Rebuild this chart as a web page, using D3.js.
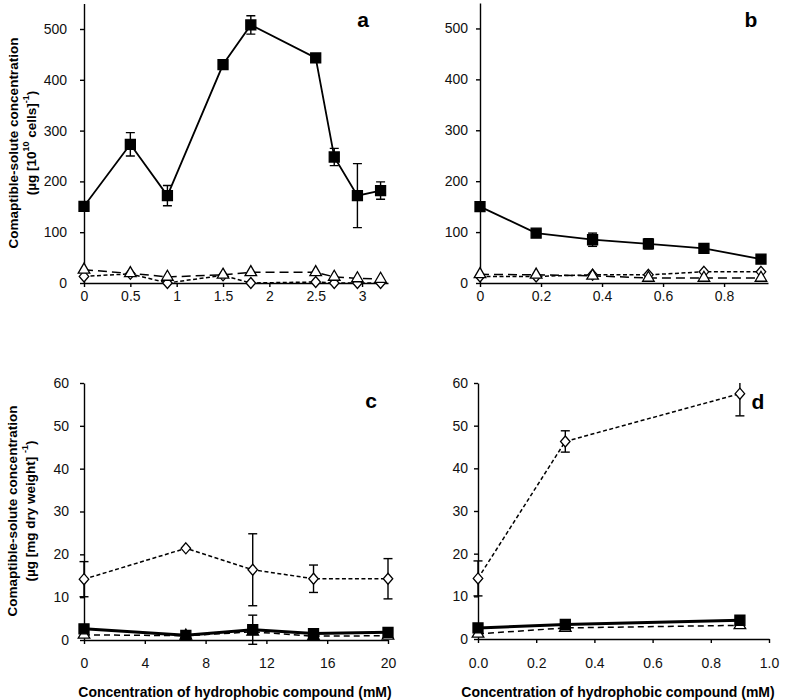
<!DOCTYPE html>
<html>
<head>
<meta charset="utf-8">
<script src="https://cdn.jsdelivr.net/npm/d3@7"></script>
<style>
  body { margin: 0; background: #fff; }
  svg { font-family: "Liberation Sans", Arial, sans-serif; }
</style>
</head>
<body>
<svg id="chart" width="800" height="700"></svg>
<script>
// ---------- data ----------
const aX = [0, 0.5, 0.9, 1.5, 1.8, 2.5, 2.7, 2.95, 3.2];
const aSquare = [151, 273, 172, 430, 508, 443, 248, 172, 182];
const aSquareErr = [0, 23, 20, 6, 18, 0, 17, 63, 17];
const aTriangle = [26, 19, 12, 16, 21, 21, 12, 9, 8];
const aDiamond = [13, 18, 0, 15, 0, 2, 0, 0, 0];

const bX = [0, 0.184, 0.369, 0.552, 0.734, 0.921];
const bSquare = [150, 98, 85, 77, 68, 47];
const bSquareErr = [0, 0, 13, 10, 0, 0];
const bTriangle = [17, 16, 14, 10, 10, 10];
const bDiamond = [13, 13, 16, 16, 22, 22];

const cX = [0, 6.7, 11.1, 15.1, 20];
const cSquare = [2.6, 1.1, 2.4, 1.5, 1.8];
const cSquareErr = [0, 0, 3.4, 0, 0];
const cTriangle = [1.2, 1.0, 1.9, 0.9, 1.0];
const cDiamond = [14.2, 21.4, 16.4, 14.3, 14.3];
const cDiamondErr = [4.1, 0, 8.4, 3.2, 4.7];

const dX = [0, 0.3, 0.9];
const dSquare = [2.6, 3.4, 4.4];
const dTriangle = [1.2, 2.6, 3.2];
const dDiamond = [14.2, 46.3, 57.5];
const dDiamondErr = [4.1, 2.5, 5.2];

const topYTicks = [0, 100, 200, 300, 400, 500];
const bottomYTicks = [0, 10, 20, 30, 40, 50, 60];
const aXTicks = [0, 0.5, 1, 1.5, 2, 2.5, 3];
const bXTicks = [0, 0.2, 0.4, 0.6, 0.8];
const cXTicks = [0, 4, 8, 12, 16, 20];
const dXTicks = [0, 0.2, 0.4, 0.6, 0.8, 1.0];

const yTitleMain = "Comaptible-solute concentration";
const xTitle = "Concentration of hydrophobic compound (mM)";

// ---------- drawing ----------
const svg = d3.select("#chart");

const wideDiamond = {
  draw(ctx, size) {
    const h = Math.sqrt(size) / 2;
    const w = h * 0.95;
    ctx.moveTo(0, -h * 1.1);
    ctx.lineTo(w, 0);
    ctx.lineTo(0, h * 1.1);
    ctx.lineTo(-w, 0);
    ctx.closePath();
  }
};

function drawPanel(p) {
  const g = svg.append("g");
  const x = d3.scaleLinear().domain(p.xDomain).range(p.xRange);
  const y = d3.scaleLinear().domain(p.yDomain).range(p.yRange);

  const xAxis = d3.axisBottom(x).tickValues(p.xTicks).tickFormat(p.xFmt)
    .tickSizeInner(4).tickSizeOuter(0).tickPadding(p.xPad);
  const yAxis = d3.axisLeft(y).tickValues(p.yTicks).tickFormat(d3.format("d"))
    .tickSizeInner(4).tickSizeOuter(0).tickPadding(p.yPad);
  const gx = g.append("g").attr("transform", `translate(0,${p.yRange[0]})`).call(xAxis);
  const gy = g.append("g").attr("transform", `translate(${p.xRange[0]},0)`).call(yAxis);
  [gx, gy].forEach(a => {
    a.selectAll("path,line").attr("stroke", "#000").attr("stroke-width", 1.4);
    a.selectAll("text").attr("font-size", 14).attr("fill", "#111");
  });

  const clip = "clip" + p.id;
  g.append("clipPath").attr("id", clip).append("rect")
    .attr("x", p.xRange[0] - 20).attr("y", p.yRange[1])
    .attr("width", p.xRange[1] - p.xRange[0] + 40).attr("height", p.yRange[0] - p.yRange[1] + 20);
  const plot = g.append("g").attr("clip-path", `url(#${clip})`);

  function series(xs, ys, errs, shape, dash, lw) {
    const pts = xs.map((v, i) => ({ x: v, y: ys[i], e: errs ? errs[i] : 0 }));
    const line = d3.line().x(d => x(d.x)).y(d => y(d.y));
    plot.append("path").datum(pts).attr("d", line)
      .attr("fill", "none").attr("stroke", "#000").attr("stroke-width", lw)
      .attr("stroke-dasharray", dash);
    const eb = plot.append("g").attr("stroke", "#000").attr("stroke-width", 1.4);
    pts.filter(d => d.e > 0).forEach(d => {
      const cx = x(d.x), y1 = y(d.y - d.e), y2 = y(d.y + d.e);
      eb.append("line").attr("x1", cx).attr("x2", cx).attr("y1", y1).attr("y2", y2);
      eb.append("line").attr("x1", cx - 4.5).attr("x2", cx + 4.5).attr("y1", y1).attr("y2", y1);
      eb.append("line").attr("x1", cx - 4.5).attr("x2", cx + 4.5).attr("y1", y2).attr("y2", y2);
    });
    const sym = shape === "square" ? d3.symbolSquare : shape === "triangle" ? d3.symbolTriangle : wideDiamond;
    const size = shape === "square" ? 100 : shape === "triangle" ? 58 : 100;
    plot.append("g").selectAll("path").data(pts).join("path")
      .attr("d", d3.symbol().type(sym).size(size))
      .attr("transform", d => `translate(${x(d.x)},${y(d.y)})`)
      .attr("fill", shape === "square" ? "#000" : "#fff")
      .attr("stroke", "#000").attr("stroke-width", 1.3);
  }

  series(p.xs, p.diamond, p.diamondErr, "diamond", "4,2.5", 1.5);
  series(p.xs, p.triangle, null, "triangle", p.triDash, 1.5);
  series(p.xs, p.square, p.squareErr, "square", null, p.sqLw);

  g.append("text").attr("x", p.letterPos[0]).attr("y", p.letterPos[1])
    .attr("text-anchor", "middle").attr("font-size", 21).attr("font-weight", "bold")
    .text(p.letter);
}

drawPanel({
  id: "a", letter: "a", letterPos: [363, 27],
  xs: aX, square: aSquare, squareErr: aSquareErr, triangle: aTriangle, diamond: aDiamond,
  xDomain: [0, 3.28], xRange: [84, 388], yDomain: [0, 550], yRange: [283, 3.6],
  xTicks: aXTicks, xFmt: d3.format("~g"), yTicks: topYTicks, xPad: 4, yPad: 13,
  triDash: "9,5", sqLw: 1.8
});
drawPanel({
  id: "b", letter: "b", letterPos: [751, 27],
  xs: bX, square: bSquare, squareErr: bSquareErr, triangle: bTriangle, diamond: bDiamond,
  xDomain: [0, 0.944], xRange: [480, 768], yDomain: [0, 550], yRange: [283, 3],
  xTicks: bXTicks, xFmt: d3.format("~g"), yTicks: topYTicks, xPad: 4, yPad: 8,
  triDash: "9,5", sqLw: 1.8
});
drawPanel({
  id: "c", letter: "c", letterPos: [371, 408],
  xs: cX, square: cSquare, squareErr: cSquareErr, triangle: cTriangle, diamond: cDiamond, diamondErr: cDiamondErr,
  xDomain: [0, 20], xRange: [84, 388], yDomain: [0, 60], yRange: [640, 383],
  xTicks: cXTicks, xFmt: d3.format("d"), yTicks: bottomYTicks, xPad: 14, yPad: 11,
  triDash: "6,4", sqLw: 3
});
drawPanel({
  id: "d", letter: "d", letterPos: [758, 409],
  xs: dX, square: dSquare, squareErr: null, triangle: dTriangle, diamond: dDiamond, diamondErr: dDiamondErr,
  xDomain: [0, 1], xRange: [478, 769], yDomain: [0, 60], yRange: [639, 383],
  xTicks: dXTicks, xFmt: d3.format(".1f"), yTicks: bottomYTicks, xPad: 15, yPad: 6,
  triDash: "6,4", sqLw: 3
});

function yTitle(cx1, cx2, cy, line2Parts) {
  svg.append("text").attr("transform", `translate(${cx1},${cy}) rotate(-90)`)
    .attr("text-anchor", "middle").attr("dominant-baseline", "central")
    .attr("font-size", 13.5).attr("font-weight", "bold").text(yTitleMain);
  const t = svg.append("text").attr("transform", `translate(${cx2},${cy}) rotate(-90)`)
    .attr("text-anchor", "middle").attr("dominant-baseline", "central")
    .attr("font-size", 13.5).attr("font-weight", "bold");
  line2Parts.forEach(([s, sup]) => {
    const ts = t.append("tspan").text(s);
    if (sup) ts.attr("font-size", 9).attr("baseline-shift", "super");
  });
}
yTitle(13, 31, 143, [["(µg [10"], ["10", true], [" cells]"], ["-1", true], [")"]]);
yTitle(12, 30, 511, [["(µg [mg dry weight] "], ["-1", true], [")"]]);

[235, 618].forEach(cx => {
  svg.append("text").attr("x", cx).attr("y", 697).attr("text-anchor", "middle")
    .attr("font-size", 14).attr("font-weight", "bold").text(xTitle);
});
</script>
</body>
</html>
